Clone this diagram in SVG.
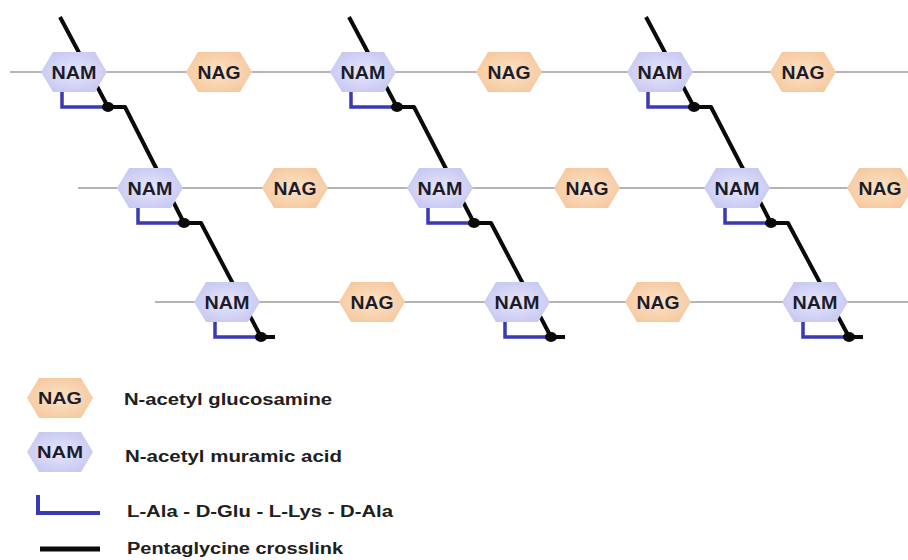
<svg xmlns="http://www.w3.org/2000/svg" xmlns:xlink="http://www.w3.org/1999/xlink" width="908" height="560" viewBox="0 0 908 560">
  <style>
    .backbone { stroke: #b4b4b4; stroke-width: 2; fill: none; }
    .xlink { stroke: #0a0a0a; stroke-width: 4; fill: none; stroke-linejoin: round; }
    .pep { stroke: #3a3ab4; stroke-width: 3.5; fill: none; stroke-linejoin: miter; }
    .dot { fill: #0a0a0a; }
    .nam { fill: url(#gNam); filter: url(#soft); }
    .nag { fill: url(#gNag); filter: url(#soft); }
    .lbl { font-family: "Liberation Sans", Arial, sans-serif; font-weight: bold; font-size: 18px; fill: #1c1c2a; text-anchor: middle; }
    .leg { font-family: "Liberation Sans", Arial, sans-serif; font-weight: bold; font-size: 16px; fill: #202020; }
  </style>
  <defs>
    <radialGradient id="gNam" cx="50%" cy="50%" r="60%">
      <stop offset="0" stop-color="#e6e6fd"/>
      <stop offset="1" stop-color="#c6c6f1"/>
    </radialGradient>
    <radialGradient id="gNag" cx="50%" cy="50%" r="60%">
      <stop offset="0" stop-color="#fde3c8"/>
      <stop offset="1" stop-color="#f5c79c"/>
    </radialGradient>
    <filter id="soft" x="-10%" y="-10%" width="120%" height="120%">
      <feGaussianBlur stdDeviation="0.7"/>
    </filter>
    <polygon id="hex" points="-33,0 -21,-20 21,-20 33,0 21,20 -21,20"/>
  </defs>

  <rect width="908" height="560" fill="#ffffff"/>

  <!-- glycan backbones, peptide stems and pentaglycine bridges -->
  <g id="connectors">
    <line class="backbone" x1="10" y1="72" x2="908" y2="72"/>
    <line class="backbone" x1="78" y1="188" x2="908" y2="188"/>
    <line class="backbone" x1="155" y1="302" x2="908" y2="302"/>

    <path class="xlink" d="M60 17 L108 107 L125 107 L184 223 L201 223 L261 337 L275 337"/>
    <path class="xlink" d="M349 17 L397 107 L414 107 L474 223 L491 223 L551 337 L565 337"/>
    <path class="xlink" d="M646 17 L694 107 L711 107 L771 223 L788 223 L849 337 L863 337"/>

    <path class="pep" d="M62 92 V107 H108"/>
    <path class="pep" d="M138 208 V223 H184"/>
    <path class="pep" d="M215 322 V337 H261"/>
    <path class="pep" d="M351 92 V107 H397"/>
    <path class="pep" d="M428 208 V223 H474"/>
    <path class="pep" d="M505 322 V337 H551"/>
    <path class="pep" d="M648 92 V107 H694"/>
    <path class="pep" d="M725 208 V223 H771"/>
    <path class="pep" d="M803 322 V337 H849"/>

    <ellipse class="dot" cx="108" cy="107" rx="6" ry="5"/>
    <ellipse class="dot" cx="184" cy="223" rx="6" ry="5"/>
    <ellipse class="dot" cx="261" cy="337" rx="6" ry="5"/>
    <ellipse class="dot" cx="397" cy="107" rx="6" ry="5"/>
    <ellipse class="dot" cx="474" cy="223" rx="6" ry="5"/>
    <ellipse class="dot" cx="551" cy="337" rx="6" ry="5"/>
    <ellipse class="dot" cx="694" cy="107" rx="6" ry="5"/>
    <ellipse class="dot" cx="771" cy="223" rx="6" ry="5"/>
    <ellipse class="dot" cx="849" cy="337" rx="6" ry="5"/>
  </g>

  <!-- row 1 -->
  <g id="nam-1-1"><use href="#hex" class="nam" x="74" y="72"/><text class="lbl" x="74" y="78.5" textLength="45" lengthAdjust="spacingAndGlyphs">NAM</text></g>
  <g id="nag-1-1"><use href="#hex" class="nag" x="219" y="72"/><text class="lbl" x="219" y="78.5" textLength="43" lengthAdjust="spacingAndGlyphs">NAG</text></g>
  <g id="nam-1-2"><use href="#hex" class="nam" x="363" y="72"/><text class="lbl" x="363" y="78.5" textLength="45" lengthAdjust="spacingAndGlyphs">NAM</text></g>
  <g id="nag-1-2"><use href="#hex" class="nag" x="509" y="72"/><text class="lbl" x="509" y="78.5" textLength="43" lengthAdjust="spacingAndGlyphs">NAG</text></g>
  <g id="nam-1-3"><use href="#hex" class="nam" x="660" y="72"/><text class="lbl" x="660" y="78.5" textLength="45" lengthAdjust="spacingAndGlyphs">NAM</text></g>
  <g id="nag-1-3"><use href="#hex" class="nag" x="803" y="72"/><text class="lbl" x="803" y="78.5" textLength="43" lengthAdjust="spacingAndGlyphs">NAG</text></g>

  <!-- row 2 -->
  <g id="nam-2-1"><use href="#hex" class="nam" x="150" y="188"/><text class="lbl" x="150" y="194.5" textLength="45" lengthAdjust="spacingAndGlyphs">NAM</text></g>
  <g id="nag-2-1"><use href="#hex" class="nag" x="295" y="188"/><text class="lbl" x="295" y="194.5" textLength="43" lengthAdjust="spacingAndGlyphs">NAG</text></g>
  <g id="nam-2-2"><use href="#hex" class="nam" x="440" y="188"/><text class="lbl" x="440" y="194.5" textLength="45" lengthAdjust="spacingAndGlyphs">NAM</text></g>
  <g id="nag-2-2"><use href="#hex" class="nag" x="587" y="188"/><text class="lbl" x="587" y="194.5" textLength="43" lengthAdjust="spacingAndGlyphs">NAG</text></g>
  <g id="nam-2-3"><use href="#hex" class="nam" x="737" y="188"/><text class="lbl" x="737" y="194.5" textLength="45" lengthAdjust="spacingAndGlyphs">NAM</text></g>
  <g id="nag-2-3"><use href="#hex" class="nag" x="880" y="188"/><text class="lbl" x="880" y="194.5" textLength="43" lengthAdjust="spacingAndGlyphs">NAG</text></g>

  <!-- row 3 -->
  <g id="nam-3-1"><use href="#hex" class="nam" x="227" y="302"/><text class="lbl" x="227" y="308.5" textLength="45" lengthAdjust="spacingAndGlyphs">NAM</text></g>
  <g id="nag-3-1"><use href="#hex" class="nag" x="372" y="302"/><text class="lbl" x="372" y="308.5" textLength="43" lengthAdjust="spacingAndGlyphs">NAG</text></g>
  <g id="nam-3-2"><use href="#hex" class="nam" x="517" y="302"/><text class="lbl" x="517" y="308.5" textLength="45" lengthAdjust="spacingAndGlyphs">NAM</text></g>
  <g id="nag-3-2"><use href="#hex" class="nag" x="658" y="302"/><text class="lbl" x="658" y="308.5" textLength="43" lengthAdjust="spacingAndGlyphs">NAG</text></g>
  <g id="nam-3-3"><use href="#hex" class="nam" x="815" y="302"/><text class="lbl" x="815" y="308.5" textLength="45" lengthAdjust="spacingAndGlyphs">NAM</text></g>

  <!-- key -->
  <g id="legend">
    <g id="key-nag">
      <use href="#hex" class="nag" x="60" y="398"/>
      <text class="lbl" x="60" y="404" style="font-size:16px" textLength="44" lengthAdjust="spacingAndGlyphs">NAG</text>
      <text class="leg" x="124" y="405" textLength="208" lengthAdjust="spacingAndGlyphs">N-acetyl glucosamine</text>
    </g>
    <g id="key-nam">
      <use href="#hex" class="nam" x="60" y="452"/>
      <text class="lbl" x="60" y="458" style="font-size:16px" textLength="46" lengthAdjust="spacingAndGlyphs">NAM</text>
      <text class="leg" x="125" y="462" textLength="217" lengthAdjust="spacingAndGlyphs">N-acetyl muramic acid</text>
    </g>
    <g id="key-peptide">
      <path class="pep" d="M38 495 V513 H100" style="stroke-width:4"/>
      <text class="leg" x="127" y="517" textLength="266" lengthAdjust="spacingAndGlyphs">L-Ala - D-Glu - L-Lys - D-Ala</text>
    </g>
    <g id="key-crosslink">
      <line class="xlink" x1="40" y1="549" x2="100" y2="549" style="stroke-width:5;stroke-linecap:butt"/>
      <text class="leg" x="127" y="554" textLength="216" lengthAdjust="spacingAndGlyphs">Pentaglycine crosslink</text>
    </g>
  </g>
</svg>
